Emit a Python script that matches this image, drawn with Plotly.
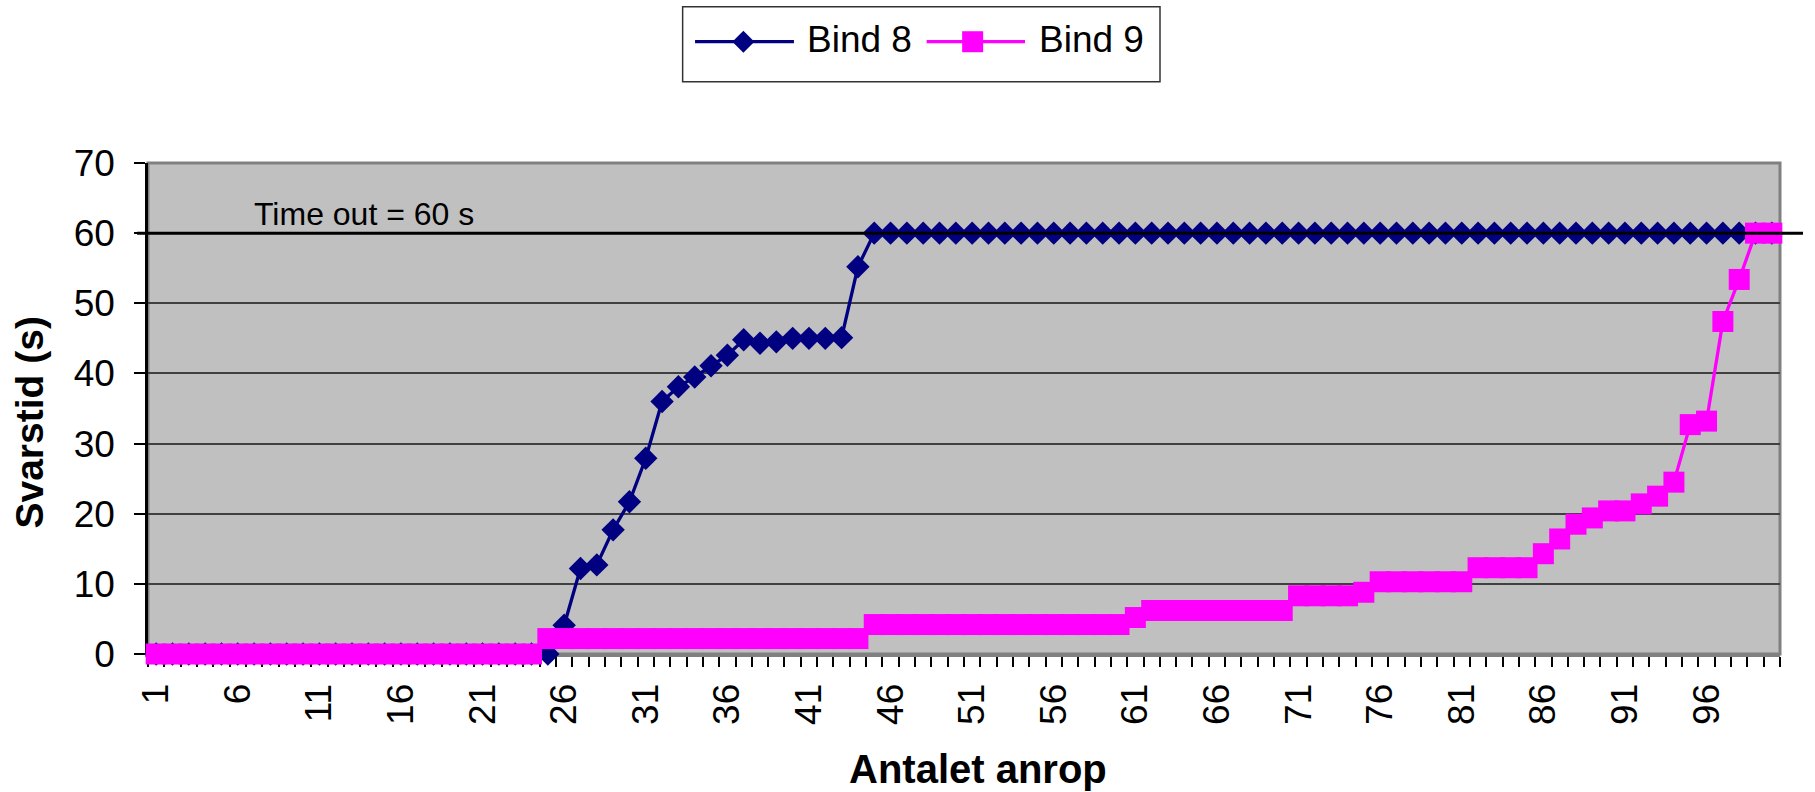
import plotly.graph_objects as go

# ---------------- data ----------------
calls = list(range(1, 101))

bind8 = ([0.0] * 24 +
         [0.0, 4.1, 12.2, 12.7, 17.7, 21.7, 27.9, 36.0, 38.1, 39.5,
          41.1, 42.6, 44.8, 44.3, 44.5, 45.0, 45.0, 45.0, 45.1, 55.2] +
         [60.0] * 56)

bind9 = ([0.0] * 24 +
         [2.2] * 20 +
         [4.2] * 16 +
         [5.2] +
         [6.2] * 9 +
         [8.3] * 4 +
         [8.8] +
         [10.3] * 6 +
         [12.3] * 4 +
         [14.3, 16.4, 18.5, 19.4, 20.4, 20.4, 21.4, 22.5, 24.5,
          32.7, 33.2, 47.4, 53.4, 60.0, 60.0])

x_tick_vals = list(range(1, 100, 5))
x_tick_text = [str(v) for v in x_tick_vals]
y_tick_vals = list(range(0, 80, 10))
timeout = 60

FONT = "Liberation Sans, Arial, sans-serif"
NAVY = "#000080"
MAGENTA = "#FF00FF"

fig = go.Figure()
fig.add_trace(go.Scatter(
    x=calls, y=bind8, name="Bind 8", mode="lines+markers",
    line=dict(color=NAVY, width=3.3),
    marker=dict(symbol="diamond", size=18, color=NAVY),
    cliponaxis=False, showlegend=False))
fig.add_trace(go.Scatter(
    x=calls, y=bind9, name="Bind 9", mode="lines+markers",
    line=dict(color=MAGENTA, width=3.3),
    marker=dict(symbol="square", size=21, color=MAGENTA),
    cliponaxis=False, showlegend=False))

shapes = []
# plot-area border
shapes.append(dict(type="rect", xref="x domain", yref="y domain", x0=0, x1=1, y0=0, y1=1,
                   line=dict(color="#808080", width=3), layer="below"))
# time-out line
shapes.append(dict(type="line", xref="paper", yref="y", x0=-0.0067, x1=1.0141,
                   y0=timeout, y1=timeout, line=dict(color="black", width=3), layer="above"))

# custom legend
LY = 1.247
shapes.append(dict(type="rect", xref="paper", yref="paper", x0=0.3276, x1=0.6201,
                   y0=1.1656, y1=1.3183, fillcolor="white",
                   line=dict(color="#333333", width=1.5), layer="above"))
shapes.append(dict(type="line", xref="paper", yref="paper", x0=0.3352, x1=0.3958,
                   y0=LY, y1=LY, line=dict(color=NAVY, width=3.3), layer="above"))
shapes.append(dict(type="path", xref="paper", yref="paper", xsizemode="pixel", ysizemode="pixel",
                   xanchor=0.3648, yanchor=LY, path="M-11,0L0,11L11,0L0,-11Z",
                   fillcolor=NAVY, line=dict(color=NAVY, width=0), layer="above"))
shapes.append(dict(type="line", xref="paper", yref="paper", x0=0.4771, x1=0.5374,
                   y0=LY, y1=LY, line=dict(color=MAGENTA, width=3.3), layer="above"))
shapes.append(dict(type="path", xref="paper", yref="paper", xsizemode="pixel", ysizemode="pixel",
                   xanchor=0.5053, yanchor=LY, path="M-10.5,-10.5L10.5,-10.5L10.5,10.5L-10.5,10.5Z",
                   fillcolor=MAGENTA, line=dict(color=MAGENTA, width=0), layer="above"))

annotations = [
    dict(text="Bind 8", xref="paper", yref="paper", x=0.4026, y=1.251, xanchor="left",
         yanchor="middle", showarrow=False, font=dict(family=FONT, size=37, color="black")),
    dict(text="Bind 9", xref="paper", yref="paper", x=0.5446, y=1.251, xanchor="left",
         yanchor="middle", showarrow=False, font=dict(family=FONT, size=37, color="black")),
    dict(text="Time out = 60 s", xref="paper", yref="y", x=0.0635, y=62.8, xanchor="left",
         yanchor="middle", showarrow=False, font=dict(family=FONT, size=32, color="black")),
    dict(text="Antalet anrop", xref="paper", yref="paper", x=0.5083, y=-0.2342,
         xanchor="center", yanchor="middle", showarrow=False,
         font=dict(family=FONT, size=40, color="black", weight="bold")),
    dict(text="Svarstid (s)", xref="paper", yref="paper", x=-0.0729, y=0.4715, textangle=-90,
         xanchor="center", yanchor="middle", showarrow=False,
         font=dict(family=FONT, size=39, color="black", weight="bold")),
]

fig.update_layout(
    width=1815, height=792,
    margin=dict(l=148, r=35, t=163, b=138, autoexpand=False),
    paper_bgcolor="white", plot_bgcolor="#C0C0C0",
    font=dict(family=FONT, color="black"),
    shapes=shapes, annotations=annotations, showlegend=False,
)
fig.update_xaxes(
    range=[0.5, 100.5], showgrid=False, zeroline=False,
    showline=True, linecolor="#808080", linewidth=3, layer="below traces",
    tickmode="array", tickvals=x_tick_vals, ticktext=x_tick_text, tickangle=-90,
    ticks="outside", ticklen=12, tickcolor="rgba(0,0,0,0)",
    tickfont=dict(family=FONT, size=37, color="black"),
    minor=dict(tickmode="array", tickvals=[i + 0.5 for i in range(0, 101)],
               ticks="outside", ticklen=10, tickcolor="black", tickwidth=1.5),
)
fig.update_yaxes(
    range=[0, 70], tickmode="array", tickvals=y_tick_vals,
    showgrid=True, gridcolor="#404040", gridwidth=1.5, zeroline=False,
    showline=True, linecolor="black", linewidth=2.5, layer="below traces",
    ticks="outside", ticklen=11, tickcolor="black", tickwidth=1.5,
    ticklabelstandoff=12,
    tickfont=dict(family=FONT, size=37, color="black"),
)

fig.write_html(
    "out.html",
    config={"displayModeBar": False},
    post_script="document.body.style.margin='0';document.body.style.overflow='hidden';",
)
